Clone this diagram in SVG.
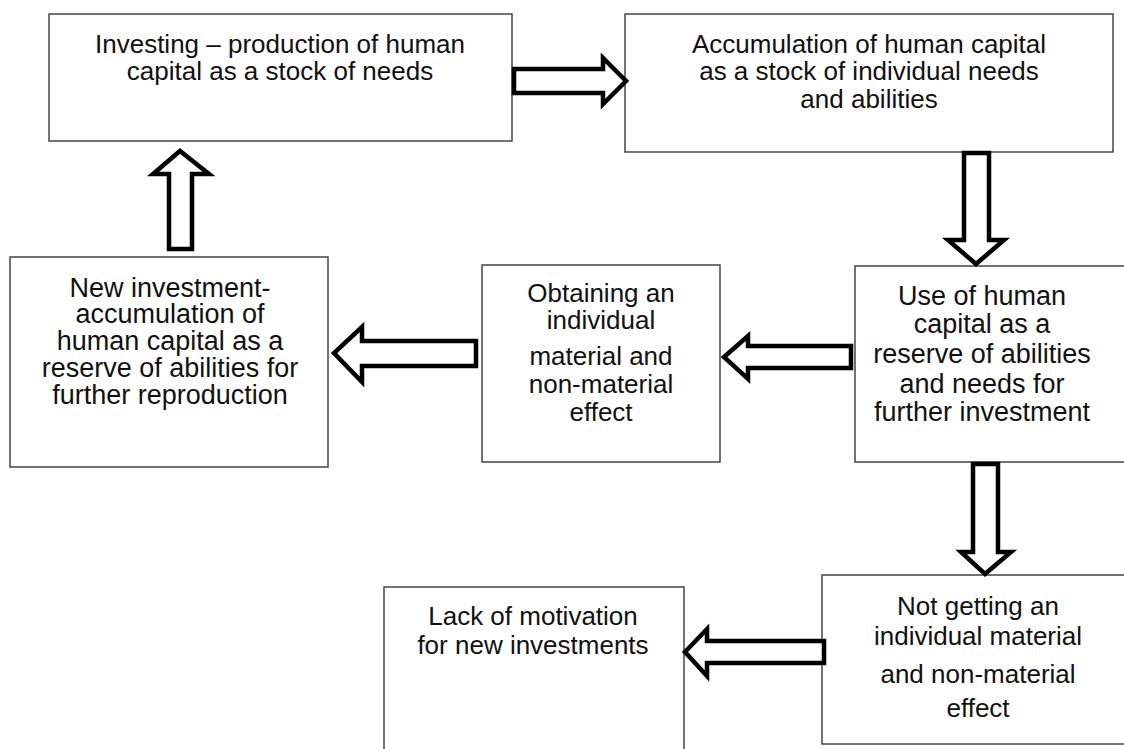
<svg xmlns="http://www.w3.org/2000/svg" width="1124" height="749" viewBox="0 0 1124 749">
<style>
.box{fill:#fff;stroke:#444;stroke-width:1.5}
.arr{fill:#fff;stroke:#000;stroke-width:4.5;stroke-linejoin:miter}
text{font-family:"Liberation Sans",Arial,sans-serif;font-size:26px;fill:#111;text-anchor:middle}
.big{font-size:27px}
</style>
<rect width="1124" height="749" fill="#fff"/>
<g id="n1"><rect class="box" x="49" y="14" width="463" height="127"/>
<text x="280" y="53">Investing – production of human</text>
<text x="280" y="80">capital as a stock of needs</text></g>
<g id="n2"><rect class="box" x="625" y="14" width="488" height="138"/>
<text x="869" y="53">Accumulation of human capital</text>
<text x="869" y="80">as a stock of individual needs</text>
<text x="869" y="108">and abilities</text></g>
<g id="n3"><rect class="box" x="855" y="266" width="280" height="196"/>
<text class="big" x="982" y="305">Use of human</text>
<text class="big" x="982" y="333">capital as a</text>
<text class="big" x="982" y="363">reserve of abilities</text>
<text class="big" x="982" y="393">and needs for</text>
<text class="big" x="982" y="421">further investment</text></g>
<g id="n4"><rect class="box" x="10" y="257" width="318" height="210"/>
<text class="big" x="170" y="297">New investment-</text>
<text class="big" x="170" y="323">accumulation of</text>
<text class="big" x="170" y="350">human capital as a</text>
<text class="big" x="170" y="377">reserve of abilities for</text>
<text class="big" x="170" y="404">further reproduction</text></g>
<g id="n5"><rect class="box" x="482" y="265" width="238" height="197"/>
<text x="601" y="302">Obtaining an</text>
<text x="601" y="329">individual</text>
<text x="601" y="365">material and</text>
<text x="601" y="393">non-material</text>
<text x="601" y="421">effect</text></g>
<g id="n6"><rect class="box" x="822" y="575" width="320" height="169"/>
<text x="978" y="615">Not getting an</text>
<text x="978" y="645">individual material</text>
<text x="978" y="683">and non-material</text>
<text x="978" y="717">effect</text></g>
<g id="n7"><rect class="box" x="384" y="587" width="300" height="180"/>
<text x="533" y="625">Lack of motivation</text>
<text x="533" y="654">for new investments</text></g>
<g id="connectors">
<polygon class="arr" points="514,69 603,69 603,58 626,81 603,104 603,93 514,93"/>
<polygon class="arr" points="964,153 989,153 989,240 1004,240 976,264 948,240 964,240"/>
<polygon class="arr" points="169,249 192,249 192,174 209,174 180,151 153,174 169,174"/>
<polygon class="arr" points="476,341 476,366 362,366 362,382 334,353 362,327 362,341"/>
<polygon class="arr" points="851,346 851,368 748,368 748,379 724,357 748,336 748,346"/>
<polygon class="arr" points="973,464 998,464 998,552 1011,552 985,574 961,552 973,552"/>
<polygon class="arr" points="824,641 824,663 707,663 707,676 685,652 707,629 707,641"/>
</g>
</svg>
